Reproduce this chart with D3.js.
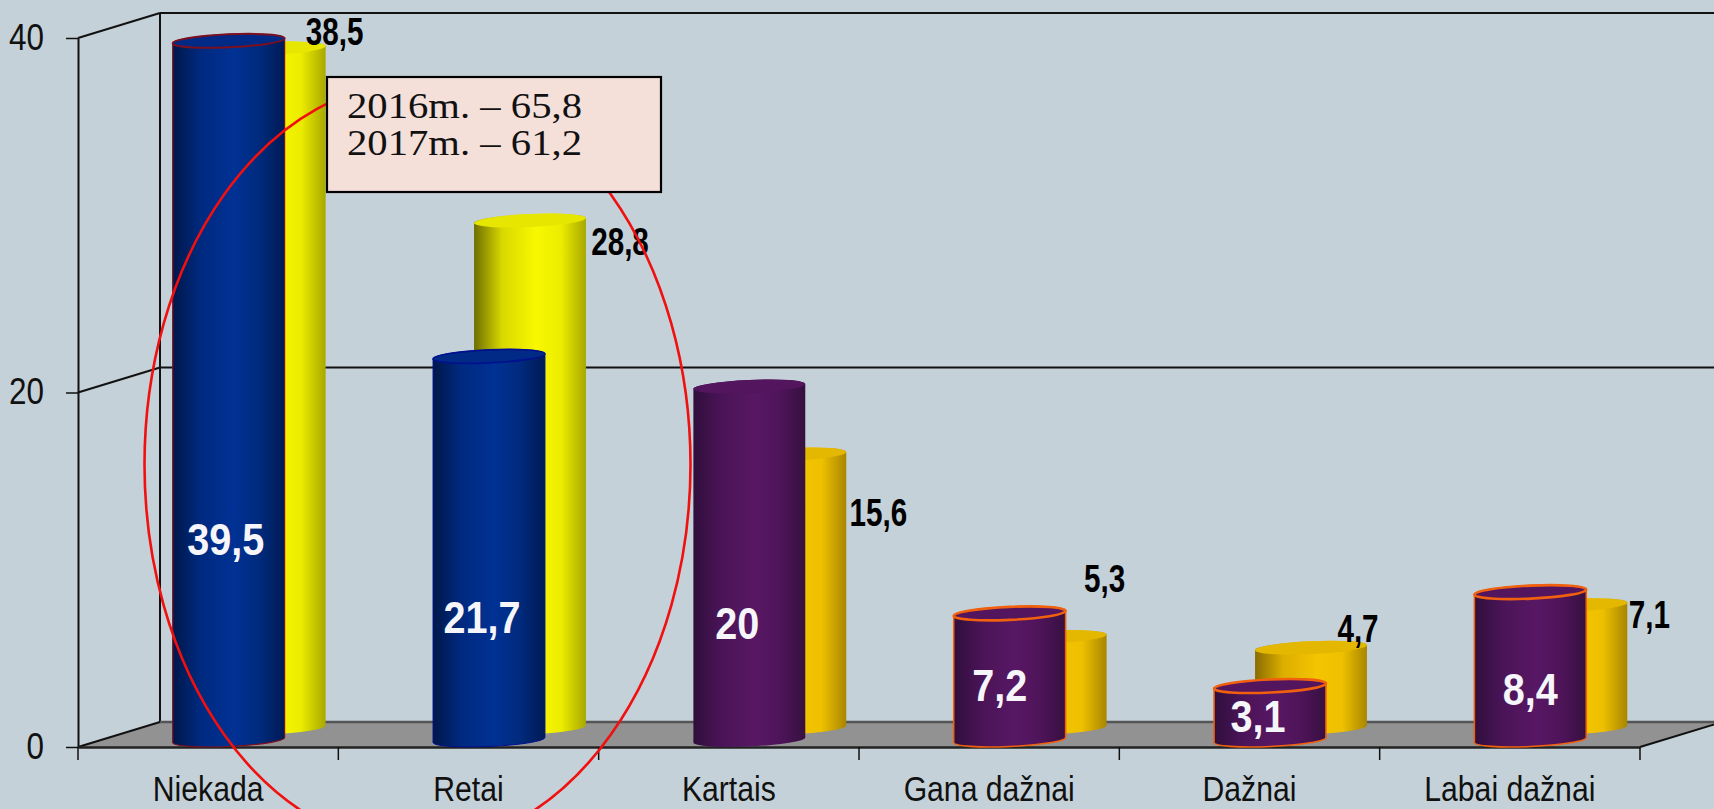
<!DOCTYPE html>
<html><head><meta charset="utf-8">
<script src="https://cdn.jsdelivr.net/npm/d3@7/dist/d3.min.js"></script>
<style>html,body{margin:0;padding:0;background:#c5d1d8;overflow:hidden}svg{display:block}</style>
</head><body><svg id="c" width="1714" height="809"></svg>
<script>
// ---- data ----
const categories = ["Niekada","Retai","Kartais","Gana dažnai","Dažnai","Labai dažnai"];
const values2017 = [39.5,21.7,20,7.2,3.1,8.4];
const values2016 = [38.5,28.8,15.6,5.3,4.7,7.1];
const yTicks = [0,20,40];
const noteLines = ["2016m. – 65,8","2017m. – 61,2"];

// ---- styles & layout ----
const W=1714,H=809;
const ramps={
 blue:{stops:["#00174a","#002a80","#003194","#002a7c","#001a55"],top:"#002a85"},
 yellow:{stops:["#6e6e00","#d8d800","#f8f800","#ecec00","#a8a800"],top:"#e6e600"},
 purple:{stops:["#300e3c","#4a1458","#581764","#4e1459","#36103f"],top:"#52155e"},
 amber:{stops:["#8a6c00","#dcae00","#f4c400","#eec000","#a88600"],top:"#e4b800"}
};
const frontRamp=["blue","blue","purple","purple","purple","purple"];
const backRamp=["yellow","yellow","amber","amber","amber","amber"];
const frontStroke=["#7a1020","#00108f",null,"#f0600f","#f0600f","#f0600f"];
const frontStrokeW=[2,1.6,0,2.6,2.6,2.6];
const backLabelNudge=[[65,-17],[90,21],[88,58],[54,-59],[47,-19],[78,9]];
const frontLabelNudge=[[-3,500],[-7,262],[-12,238],[-10,73],[-12,32],[0,98]];
const depth={dx:82,dy:-25};

const svg=d3.select("#c");
const x=d3.scaleBand().domain(categories).range([78,1640]);
const y=d3.scaleLinear().domain([0,40]).range([747,38]);
const yb=v=>y(v)+depth.dy;
const right=W+10;

// gradients
const defs=svg.append("defs");
Object.entries(ramps).forEach(([k,r])=>{
  const g=defs.append("linearGradient").attr("id","g-"+k).attr("x1",0).attr("x2",1).attr("y1",0).attr("y2",0);
  const o=[0,.25,.55,.78,1];
  r.stops.forEach((c,i)=>g.append("stop").attr("offset",o[i]).attr("stop-color",c));
});
svg.append("rect").attr("width",W).attr("height",H).attr("fill","#c5d1d8");

// floor
const x0=x.range()[0],x1=x.range()[1];
svg.append("polygon").attr("fill","#929292")
  .attr("points",[[x0,y(0)],[x0+depth.dx,yb(0)],[x1+depth.dx,yb(0)],[x1,y(0)]].join(" "));
const lines=svg.append("g").attr("fill","none").attr("stroke","#111").attr("stroke-width",2);
svg.append("line").attr("x1",x0+depth.dx).attr("x2",right).attr("y1",yb(0)).attr("y2",yb(0)).attr("stroke","#555").attr("stroke-width",2.5);
yTicks.filter(t=>t>0).forEach(t=>{
  lines.append("line").attr("x1",x0+depth.dx).attr("x2",right).attr("y1",yb(t)).attr("y2",yb(t));
});
yTicks.forEach(t=>{
  lines.append("line").attr("x1",x0).attr("x2",x0+depth.dx).attr("y1",y(t)).attr("y2",yb(t));
});
lines.append("line").attr("x1",x0+depth.dx).attr("x2",x0+depth.dx).attr("y1",yb(40)).attr("y2",yb(0));
lines.append("line").attr("x1",x1).attr("x2",x1+depth.dx).attr("y1",y(0)).attr("y2",yb(0));

// axes
const axL=svg.append("g").attr("transform",`translate(${x0},0)`)
  .call(d3.axisLeft(y).tickValues(yTicks).tickSize(12).tickSizeOuter(0).tickFormat(d3.format("d")));
axL.select(".domain").attr("stroke","#111").attr("stroke-width",2);
axL.selectAll("line").attr("stroke","#111").attr("stroke-width",1.5);
axL.selectAll("text").attr("x",-40).attr("dy","0.3em").attr("transform","scale(.85,1)")
  .attr("font-family","'Liberation Sans',Arial,sans-serif").attr("font-size",37).attr("fill","#111");

const axB=svg.append("g").attr("transform",`translate(0,${y(0)})`)
  .call(d3.axisBottom(x).tickSize(0).tickSizeOuter(0));
axB.select(".domain").attr("stroke","#222").attr("stroke-width",2.6);
axB.selectAll("text").attr("y",0).attr("dy",54.5).attr("text-anchor","middle")
  .attr("transform","scale(.85,1)")
  .attr("font-family","'Liberation Sans',Arial,sans-serif").attr("font-size",35.5).attr("fill","#111");
[x0,...categories.map(c=>x(c)+x.bandwidth())].forEach(p=>{
  axB.append("line").attr("x1",p).attr("x2",p).attr("y1",0).attr("y2",13).attr("stroke","#111").attr("stroke-width",1.5);
});

// cylinders
const rx=56,ry=6.5,tilt=-2.6,tiltR=tilt*Math.PI/180;
const ex=rx*Math.cos(tiltR),ey=rx*Math.sin(tiltR);
function side(cx,top,base){
  return `M${cx-ex},${top-ey}L${cx-ex},${base-ey}A${rx},${ry} ${tilt} 0 0 ${cx+ex},${base+ey}L${cx+ex},${top+ey}A${rx},${ry} ${tilt} 0 0 ${cx-ex},${top-ey}Z`;
}
function cylinder(g,cx,top,base,rampName,stroke,sw){
  const r=ramps[rampName];
  g.append("path").attr("d",side(cx,top,base)).attr("fill",`url(#g-${rampName})`)
    .attr("stroke",stroke||"none").attr("stroke-width",stroke?Math.max(1,sw*.6):0);
  g.append("ellipse").attr("cx",0).attr("cy",0).attr("rx",rx).attr("ry",ry)
    .attr("transform",`translate(${cx},${top}) rotate(${tilt})`)
    .attr("fill",r.top).attr("stroke",stroke||"none").attr("stroke-width",sw);
}
const gBars=svg.append("g");
const centerF=c=>x(c)+x.bandwidth()/2+20.5, centerB=c=>x(c)+x.bandwidth()/2+61.5;
categories.forEach((c,i)=>{
  cylinder(gBars,centerB(c),y(values2016[i])-16,y(0)-19,backRamp[i],null,0);
});
categories.forEach((c,i)=>{
  cylinder(gBars,centerF(c),y(values2017[i])-6,y(0)-7,frontRamp[i],frontStroke[i],frontStrokeW[i]);
});

// value labels
const lab=svg.append("g").attr("font-family","'Liberation Sans',Arial,sans-serif").attr("font-weight","bold").attr("text-anchor","middle");
const fmt=v=>String(v).replace(".",",");
categories.forEach((c,i)=>{
  const px=centerB(c)+backLabelNudge[i][0],py=y(values2016[i])-16+backLabelNudge[i][1];
  lab.append("text").attr("transform",`translate(${px},${py}) scale(.76,1)`).attr("dy","0.35em")
    .attr("font-size",39).attr("fill","#000").text(fmt(values2016[i]));
  const qx=centerF(c)+frontLabelNudge[i][0],qy=y(values2017[i])-7+frontLabelNudge[i][1];
  lab.append("text").attr("transform",`translate(${qx},${qy}) scale(.9,1)`).attr("dy","0.35em")
    .attr("font-size",44).attr("fill","#f6f6fa").text(fmt(values2017[i]));
});

// red ellipse and note
svg.append("ellipse").attr("cx",417.5).attr("cy",464.5).attr("rx",273).attr("ry",382.5)
  .attr("fill","none").attr("stroke","#f01010").attr("stroke-width",2.6);
svg.append("rect").attr("x",327).attr("y",77).attr("width",334).attr("height",115)
  .attr("fill","#f5dfd9").attr("stroke","#000").attr("stroke-width",2.2);
const note=svg.append("g").attr("font-family","'Liberation Serif','DejaVu Serif',serif").attr("font-size",36).attr("fill","#111");
noteLines.forEach((t,i)=>note.append("text").attr("transform",`translate(347,${118+i*37}) scale(1.13,1)`).text(t));
</script></body></html>
